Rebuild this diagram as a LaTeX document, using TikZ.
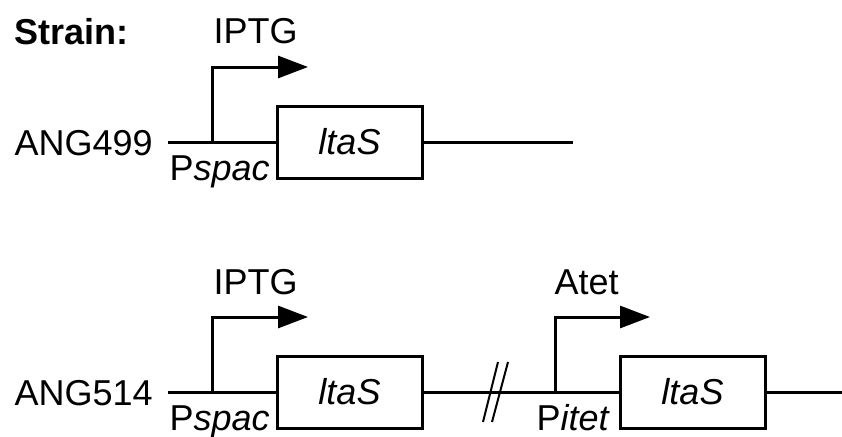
\documentclass[tikz,border=0pt]{standalone}
\usepackage{fontspec}
\setmainfont{Liberation Sans}
\usetikzlibrary{positioning,arrows.meta}
\def\big{\fontsize{36}{40}\selectfont}

\begin{document}
\begin{tikzpicture}[x=1pt, y=-1pt, line width=3pt, >={Triangle[width=22pt,length=30pt]}, gene/.style={draw, minimum width=145pt, minimum height=72pt, inner sep=0pt, font=\big\itshape}, txt/.style={inner sep=0pt, anchor=base west, font=\big}, cut/.style={line width=2pt}]
\useasboundingbox (0,0) rectangle (842,436);
% first strain
\draw (13, 45)node[txt, font=\big\bfseries](title){Strain:};
\draw (13, 155)node[txt](s1){ANG499};
\draw (212, 44)node[txt](i1){IPTG};
\draw (168, 180)node[txt](p1){P\textit{spac}};
\draw (349.5, 142)node[gene](g1){ltaS};
\coordinate (a0) at (168, 142);
\coordinate (a1) at (212, 142);
\coordinate (a2) at (573, 142);
\coordinate (t1) at (308, 67);
\draw (a0) -- (g1.west);
\draw (g1.east) -- (a2);
\draw[->] (a1) |- (t1);
% second strain
\draw (13, 405)node[txt](s2){ANG514};
\draw (212, 294)node[txt](i2){IPTG};
\draw (168, 430)node[txt](p2){P\textit{spac}};
\draw (553, 294)node[txt](i3){Atet};
\draw (535, 430)node[txt](p3){P\textit{itet}};
\draw (349.5, 392)node[gene](g2){ltaS};
\draw (692.5, 392)node[gene](g3){ltaS};
\coordinate (b0) at (168, 392);
\coordinate (b1) at (212, 392);
\coordinate (b2) at (555, 392);
\coordinate (b3) at (842, 392);
\coordinate (t2) at (308, 317);
\coordinate (t3) at (650, 317);
\draw (b0) -- (g2.west);
\draw (g2.east) -- (g3.west);
\draw (g3.east) -- (b3);
\draw[->] (b1) |- (t2);
\draw[->] (b2) |- (t3);
% break in the chromosome
\draw[cut] (483, 422) -- (498, 362);
\draw[cut] (492, 422) -- (508, 362);
\end{tikzpicture}
\end{document}
